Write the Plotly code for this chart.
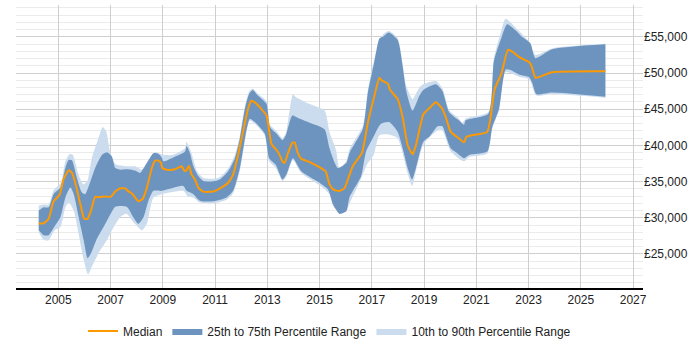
import plotly.graph_objects as go

# ---- data (decimal years, GBP) ----
med_x = [2004.25, 2004.44, 2004.63, 2004.82, 2005.05, 2005.2, 2005.4, 2005.52, 2005.65, 2005.84, 2005.99,
         2006.12, 2006.25, 2006.41, 2006.54, 2006.79, 2007.0, 2007.18, 2007.37, 2007.56, 2007.66, 2007.81,
         2007.94, 2008.06, 2008.23, 2008.39, 2008.58, 2008.70, 2008.83, 2008.93, 2008.98, 2009.15, 2009.47,
         2009.72, 2009.82, 2009.9, 2010.0, 2010.1, 2010.23, 2010.36, 2010.55, 2010.93, 2011.12, 2011.5,
         2011.69, 2011.88, 2012.07, 2012.26, 2012.39, 2012.52, 2012.77, 2012.97, 2013.16, 2013.35, 2013.47,
         2013.58, 2013.66, 2013.79, 2013.96, 2014.05, 2014.15, 2014.30, 2014.62, 2014.94, 2015.23, 2015.38,
         2015.55, 2015.76, 2015.95, 2016.15, 2016.27, 2016.63, 2016.84, 2017.1, 2017.29, 2017.38, 2017.61,
         2017.70, 2017.99, 2018.18, 2018.37, 2018.56, 2018.69, 2018.97, 2019.2, 2019.45, 2019.7, 2019.83,
         2020.02, 2020.34, 2020.53, 2020.62, 2020.98, 2021.42, 2021.70, 2021.96, 2022.21, 2022.38, 2022.66,
         2023.02, 2023.12, 2023.27, 2023.9, 2025.94]
median = [29200, 29250, 29860, 32270, 33180, 35300, 36570, 36200, 34850, 31900, 29860,
          29860, 31000, 32900, 32850, 32950, 32900, 33620, 34070, 34070, 33720, 33400,
          32800, 32270, 32600, 34170, 36880, 37880, 37900, 37560, 36880, 36650, 36700,
          37110, 36520, 36520, 37200, 35970, 35300, 34170, 33620, 33620, 33930, 34850,
          35970, 38690, 41870, 45040, 46170, 45950, 45040, 44130, 40190, 39370, 38690,
          37800, 37560, 38920, 40380, 40380, 39150, 38150, 37700, 37110, 36440, 34620,
          33850, 33720, 34070, 35970, 37110, 39050, 43000, 46850, 49350, 48980, 48530,
          47660, 46400, 43900, 40050, 38790, 40050, 44270, 45130, 45950, 45040, 43900,
          41870, 40960, 40420, 41190, 41500, 41870, 47750, 49930, 53200, 52950, 52150,
          51520, 50920, 49350, 50110, 50240]

p75_x = [2004.25, 2004.44, 2004.63, 2004.82, 2005.08, 2005.27, 2005.4, 2005.52, 2005.71, 2005.90, 2006.03,
         2006.19, 2006.41, 2006.67, 2006.86, 2007.05, 2007.18, 2007.37, 2007.62, 2007.81, 2007.94, 2008.13,
         2008.39, 2008.64, 2008.83, 2008.96, 2009.02, 2009.40, 2009.85, 2009.91, 2010.04, 2010.17, 2010.36,
         2010.55, 2010.93, 2011.18, 2011.5, 2011.76, 2011.95, 2012.14, 2012.31, 2012.44, 2012.65, 2012.97,
         2013.10, 2013.35, 2013.58, 2013.71, 2013.96, 2014.24, 2014.62, 2015.19, 2015.38, 2015.70, 2016.02,
         2016.15, 2016.66, 2016.85, 2017.1, 2017.29, 2017.42, 2017.65, 2017.99, 2018.18, 2018.33, 2018.56,
         2018.82, 2018.97, 2019.45, 2019.70, 2019.96, 2020.34, 2020.53, 2020.59, 2021.46, 2021.67, 2021.93,
         2022.18, 2022.50, 2022.75, 2023.07, 2023.26, 2023.90, 2025.94]
p75 = [31000, 31460, 31460, 33270, 34170, 36880, 38010, 37940, 35530, 33490, 33270,
       34620, 36880, 38690, 39050, 38470, 36880, 36650, 36700, 36650, 36520, 36200,
       37560, 38920, 38850, 38330, 37800, 38330, 39150, 39920, 38920, 37110, 35760,
       35080, 35040, 35300, 36440, 38240, 40960, 45040, 47170, 47660, 46850, 45720,
       42550, 41640, 40730, 41410, 44130, 43680, 43140, 42230, 39600, 36880, 37560,
       39000, 42320, 47310, 51600, 54780, 55000, 55600, 54550, 50920, 47310, 44810,
       46850, 47660, 48440, 47530, 44590, 43450, 42870, 43450, 44360, 51600, 54550,
       56730, 55910, 55000, 54100, 52060, 53280, 53970]

p25_x = [2004.25, 2004.44, 2004.63, 2004.84, 2005.08, 2005.27, 2005.46, 2005.59, 2005.78, 2005.97, 2006.12,
         2006.25, 2006.48, 2006.73, 2007.0, 2007.18, 2007.62, 2007.87, 2008.06, 2008.26, 2008.45, 2008.64,
         2008.96, 2009.78, 2009.91, 2010.17, 2010.42, 2010.93, 2011.44, 2011.69, 2011.95, 2012.2, 2012.33,
         2012.52, 2012.90, 2013.07, 2013.32, 2013.58, 2013.73, 2013.98, 2014.30, 2015.0, 2015.32, 2015.51,
         2015.76, 2016.02, 2016.15, 2016.59, 2016.78, 2017.03, 2017.35, 2017.66, 2017.99, 2018.18, 2018.37,
         2018.54, 2018.69, 2018.97, 2019.2, 2019.52, 2019.70, 2019.83, 2020.02, 2020.27, 2020.53, 2020.72,
         2021.42, 2021.61, 2021.87, 2022.12, 2022.31, 2022.63, 2023.02, 2023.14, 2023.30, 2023.90, 2025.94]
p25 = [28280, 27600, 27600, 28730, 30090, 32810, 34170, 33270, 30090, 26920, 24420,
       25100, 27140, 28730, 30540, 31540, 31540, 30090, 29180, 30090, 32360, 33720,
       33720, 34400, 33720, 33270, 32360, 32270, 32810, 33720, 36880, 42090, 43680,
       43230, 41640, 38240, 37340, 35300, 35970, 38240, 36440, 34850, 33930, 31900,
       30540, 30900, 32900, 35750, 39150, 40960, 43000, 43230, 41870, 39600, 36880,
       35300, 36880, 40510, 41190, 42640, 42640, 41410, 39600, 38920, 38240, 38690,
       39150, 42550, 45040, 50470, 50420, 49800, 49430, 48670, 47080, 47310, 46710]

p90_x = [2004.25, 2004.44, 2004.63, 2004.82, 2005.1, 2005.27, 2005.43, 2005.55, 2005.77, 2005.96, 2006.11,
         2006.28, 2006.53, 2006.70, 2006.83, 2006.98, 2007.18, 2007.62, 2007.94, 2008.20, 2008.45, 2008.70,
         2009.02, 2009.40, 2009.85, 2009.91, 2010.1, 2010.3, 2010.55, 2010.93, 2011.18, 2011.5, 2011.76,
         2011.95, 2012.14, 2012.31, 2012.44, 2012.65, 2012.97, 2013.10, 2013.35, 2013.58, 2013.71, 2013.98,
         2014.11, 2014.62, 2015.19, 2015.38, 2015.63, 2015.76, 2016.02, 2016.15, 2016.66, 2016.85, 2017.1,
         2017.42, 2017.65, 2017.99, 2018.18, 2018.30, 2018.56, 2018.82, 2018.97, 2019.45, 2019.70, 2019.96,
         2020.34, 2020.46, 2020.59, 2021.46, 2021.67, 2021.93, 2022.12, 2022.50, 2023.02, 2023.26, 2023.90,
         2025.94]
p90 = [31680, 31830, 31830, 33810, 34850, 37800, 38790, 38700, 35970, 34620, 35080,
       38240, 40960, 42550, 41950, 39150, 37430, 37110, 37110, 36650, 38010, 39050,
       38700, 38700, 39600, 40500, 38920, 36500, 35500, 35400, 35600, 36800, 38700,
       41400, 45400, 47500, 47850, 47100, 46100, 42900, 42000, 41000, 41700, 47080,
       46630, 45720, 44810, 41870, 39370, 36880, 37800, 39500, 42700, 47700, 52000,
       55300, 55800, 54800, 51300, 48440, 46400, 48000, 48440, 48890, 47900, 44900,
       43700, 43140, 43700, 44600, 52000, 55500, 57500, 56300, 54320, 52500, 53400,
       54030]

p10_x = [2004.25, 2004.44, 2004.63, 2004.86, 2005.08, 2005.27, 2005.40, 2005.59, 2005.78, 2005.97, 2006.14,
         2006.29, 2006.54, 2006.86, 2007.12, 2007.37, 2007.62, 2007.87, 2008.20, 2008.39, 2008.64, 2008.96,
         2009.78, 2009.97, 2010.17, 2010.42, 2010.93, 2011.44, 2011.69, 2011.95, 2012.2, 2012.33, 2012.52,
         2012.90, 2013.07, 2013.32, 2013.58, 2013.73, 2013.98, 2014.30, 2015.0, 2015.38, 2015.51, 2015.76,
         2016.02, 2016.15, 2016.55, 2016.81, 2017.07, 2017.29, 2017.66, 2017.99, 2018.37, 2018.54, 2018.69,
         2018.97, 2019.52, 2019.70, 2020.02, 2020.53, 2020.72, 2021.42, 2021.61, 2021.87, 2022.12, 2022.63,
         2023.02, 2023.30, 2023.90, 2025.94]
p10 = [28000, 26920, 26900, 28280, 28730, 31450, 32130, 31000, 27730, 24200, 22170,
       23290, 25100, 26920, 28730, 30090, 30540, 29410, 28280, 29180, 32810, 33270,
       33720, 32900, 32810, 32100, 32000, 32500, 33400, 36500, 41800, 43450, 43000,
       41400, 37800, 36900, 35080, 35700, 38000, 36200, 34500, 33270, 31680, 30770,
       30900, 32000, 35080, 37340, 38690, 41410, 41500, 40960, 36200, 34400, 36500,
       40100, 42100, 42100, 39200, 37800, 38400, 38900, 42300, 44900, 50100, 49500,
       49150, 46900, 47100, 46600]

x_ticks = list(range(2005, 2028, 2))

# ---- styles ----
ORANGE = "#ff9900"
DARK = "#6d94be"
LIGHT = "#cbdcee"
FONT = "Liberation Sans, Arial, sans-serif"
SMOOTH = 0.6

fig = go.Figure()

# 10th-90th band: lower edge, then upper edge filled to it
fig.add_trace(go.Scatter(x=p10_x, y=p10, mode="lines", showlegend=False, hoverinfo="skip",
                         line=dict(width=0, color=LIGHT, shape="spline", smoothing=SMOOTH)))
fig.add_trace(go.Scatter(x=p90_x, y=p90, mode="lines", fill="tonexty", fillcolor=LIGHT,
                         line=dict(width=0, color=LIGHT, shape="spline", smoothing=SMOOTH),
                         name="10th to 90th Percentile Range", legendrank=3, hoverinfo="skip"))
# 25th-75th band
fig.add_trace(go.Scatter(x=p25_x, y=p25, mode="lines", showlegend=False, hoverinfo="skip",
                         line=dict(width=0, color=DARK, shape="spline", smoothing=SMOOTH)))
fig.add_trace(go.Scatter(x=p75_x, y=p75, mode="lines", fill="tonexty", fillcolor=DARK,
                         line=dict(width=0, color=DARK, shape="spline", smoothing=SMOOTH),
                         name="25th to 75th Percentile Range", legendrank=2, hoverinfo="skip"))
# median
fig.add_trace(go.Scatter(x=med_x, y=median, mode="lines",
                         line=dict(color=ORANGE, width=2, shape="spline", smoothing=0.5),
                         name="Median", legendrank=1))

fig.update_layout(
    width=700, height=350,
    margin=dict(l=16, r=57, t=5, b=58),
    paper_bgcolor="white", plot_bgcolor="white",
    font=dict(family=FONT, size=12, color="#222"),
    showlegend=True,
    legend=dict(orientation="h", x=0.5, xanchor="center", y=-0.152, yanchor="middle",
                traceorder="normal",
                font=dict(size=12, color="#222"), itemwidth=30, tracegroupgap=0),
    xaxis=dict(range=[2003.38, 2027.38], tickvals=x_ticks, ticktext=[str(v) for v in x_ticks],
               showgrid=True, gridcolor="#cfcfcf", gridwidth=1,
               showline=True, linecolor="black", linewidth=1.5, ticks="", zeroline=False,
               tickfont=dict(size=12, color="#222")),
    yaxis=dict(range=[20300, 59400], side="right", tick0=0, dtick=5000,
               tickprefix="£", tickformat=",d",
               showgrid=True, gridcolor="#cfcfcf", gridwidth=1,
               minor=dict(dtick=1000, showgrid=True, gridcolor="#ebebeb", gridwidth=1),
               showline=False, zeroline=False, ticks="",
               tickfont=dict(size=12, color="#222")),
)

fig.write_html("out.html")
